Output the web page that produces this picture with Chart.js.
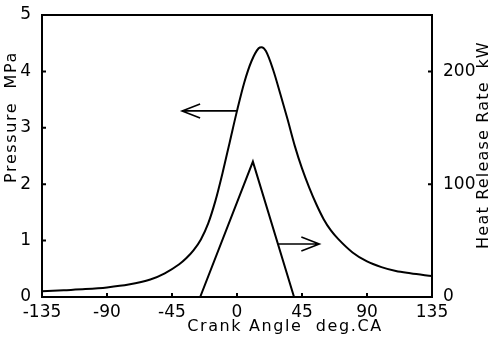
<!DOCTYPE html>
<html>
<head>
<meta charset="utf-8">
<script src="https://cdn.jsdelivr.net/npm/chart.js@4.4.1/dist/chart.umd.min.js"></script>
<style>
    html, body { margin: 0; padding: 0; background: #fff; }
    #wrap { width: 493px; height: 340px; }
</style>
</head>
<body>
<div id="wrap"><canvas id="chart"></canvas></div>
<script>
// donnees
const crankAngle = [-135, -120, -105, -90, -75, -60, -50, -40, -35, -30, -25, -20, -15, -10, -5, 0, 5, 10, 15, 17, 20, 25, 30, 35, 40, 45, 50, 55, 60, 65, 70, 80, 90, 100, 110, 120, 135]
const pressure = [0.1, 0.12, 0.14, 0.17, 0.22, 0.31, 0.42, 0.58, 0.69, 0.83, 1.02, 1.3, 1.7, 2.2, 2.75, 3.3, 3.8, 4.18, 4.41, 4.43, 4.36, 4.03, 3.6, 3.15, 2.68, 2.28, 1.94, 1.64, 1.38, 1.18, 1.03, 0.79, 0.63, 0.53, 0.46, 0.42, 0.37]
const heatAngle = [-25.5, 11, 39.5]
const heatRelease = [0, 120, 0]
const xTicks = [-135, -90, -45, 0, 45, 90, 135]
const pressureTicks = [0, 1, 2, 3, 4, 5]
const heatTicks = [0, 100, 200]

const FONT = 'DejaVu Sans'

// ticks vers l'interieur, cadre du haut, titres et fleches
const extras = {
    id: 'extras',
    afterDraw(chart) {
        const ctx = chart.ctx
        const { left, right, top, bottom } = chart.chartArea
        const sx = chart.scales.x
        const sy = chart.scales.y
        const sy2 = chart.scales.y2
        ctx.save()
        ctx.strokeStyle = '#000'
        ctx.lineWidth = 2
        ctx.beginPath()
        ctx.moveTo(left, top)
        ctx.lineTo(right, top)
        xTicks.forEach((v) => {
            const px = sx.getPixelForValue(v)
            ctx.moveTo(px, bottom)
            ctx.lineTo(px, bottom - 4)
        })
        pressureTicks.forEach((v) => {
            const py = sy.getPixelForValue(v)
            ctx.moveTo(left, py)
            ctx.lineTo(left + 4, py)
        })
        heatTicks.forEach((v) => {
            const py = sy2.getPixelForValue(v)
            ctx.moveTo(right, py)
            ctx.lineTo(right - 4, py)
        })
        ctx.stroke()

        // fleches
        ctx.lineWidth = 1.6
        const arrow = (x0, y0, x1, y1) => {
            const dir = Math.sign(x1 - x0)
            ctx.beginPath()
            ctx.moveTo(x0, y0)
            ctx.lineTo(x1, y1)
            ctx.moveTo(x1 - dir * 18, y1 - 7)
            ctx.lineTo(x1, y1)
            ctx.lineTo(x1 - dir * 18, y1 + 7)
            ctx.stroke()
        }
        arrow(sx.getPixelForValue(0), sy.getPixelForValue(3.3), sx.getPixelForValue(-38), sy.getPixelForValue(3.3))
        arrow(sx.getPixelForValue(28.5), sy2.getPixelForValue(47), sx.getPixelForValue(57), sy2.getPixelForValue(47))

        // titres des axes
        ctx.fillStyle = '#000'
        ctx.font = `16px "${FONT}"`
        ctx.letterSpacing = '1.6px'
        ctx.textAlign = 'center'
        ctx.textBaseline = 'middle'
        ctx.fillText('Crank Angle  deg.CA', 285, 327)
        ctx.save()
        ctx.translate(12, 117)
        ctx.rotate(-Math.PI / 2)
        ctx.fillText('Pressure  MPa', 0, 0)
        ctx.restore()
        ctx.save()
        ctx.translate(484, 145)
        ctx.rotate(-Math.PI / 2)
        ctx.letterSpacing = '1.2px'
        ctx.fillText('Heat Release Rate  kW', 0, 0)
        ctx.restore()
        ctx.restore()
    }
}

const ctx = document.getElementById('chart')
new Chart(ctx, {
    type: 'scatter',
    data: {
        datasets: [
            {
                label: 'Pressure',
                data: crankAngle.map((a, i) => ({ x: a, y: pressure[i] })),
                yAxisID: 'y',
                showLine: true,
                borderColor: '#000',
                borderWidth: 2,
                pointRadius: 0,
                cubicInterpolationMode: 'monotone'
            },
            {
                label: 'Heat Release Rate',
                data: heatAngle.map((a, i) => ({ x: a, y: heatRelease[i] })),
                yAxisID: 'y2',
                showLine: true,
                borderColor: '#000',
                borderWidth: 2,
                pointRadius: 0
            }
        ]
    },
    options: {
        responsive: true,
        maintainAspectRatio: false,
        animation: false,
        layout: { padding: { top: 15, left: 0, right: 0, bottom: 0 } },
        plugins: { legend: { display: false }, tooltip: { enabled: false } },
        scales: {
            x: {
                type: 'linear',
                min: -135,
                max: 135,
                afterBuildTicks: (s) => { s.ticks = xTicks.map((v) => ({ value: v })) },
                afterFit: (s) => { s.height = 43 },
                grid: { display: false },
                border: { color: '#000', width: 2 },
                ticks: { color: '#000', font: { family: FONT, size: 17, lineHeight: 1 }, padding: -1, maxRotation: 0, autoSkip: false }
            },
            y: {
                position: 'left',
                min: 0,
                max: 5,
                afterBuildTicks: (s) => { s.ticks = pressureTicks.map((v) => ({ value: v })) },
                afterFit: (s) => { s.width = 42 },
                grid: { display: false },
                border: { color: '#000', width: 2 },
                ticks: { color: '#000', font: { family: FONT, size: 17 }, padding: 3 }
            },
            y2: {
                position: 'right',
                min: 0,
                max: 250,
                afterBuildTicks: (s) => { s.ticks = heatTicks.map((v) => ({ value: v })) },
                afterFit: (s) => { s.width = 61 },
                grid: { display: false },
                border: { color: '#000', width: 2 },
                ticks: { color: '#000', font: { family: FONT, size: 17 }, padding: 3 }
            }
        }
    },
    plugins: [extras]
})
</script>
</body>
</html>
